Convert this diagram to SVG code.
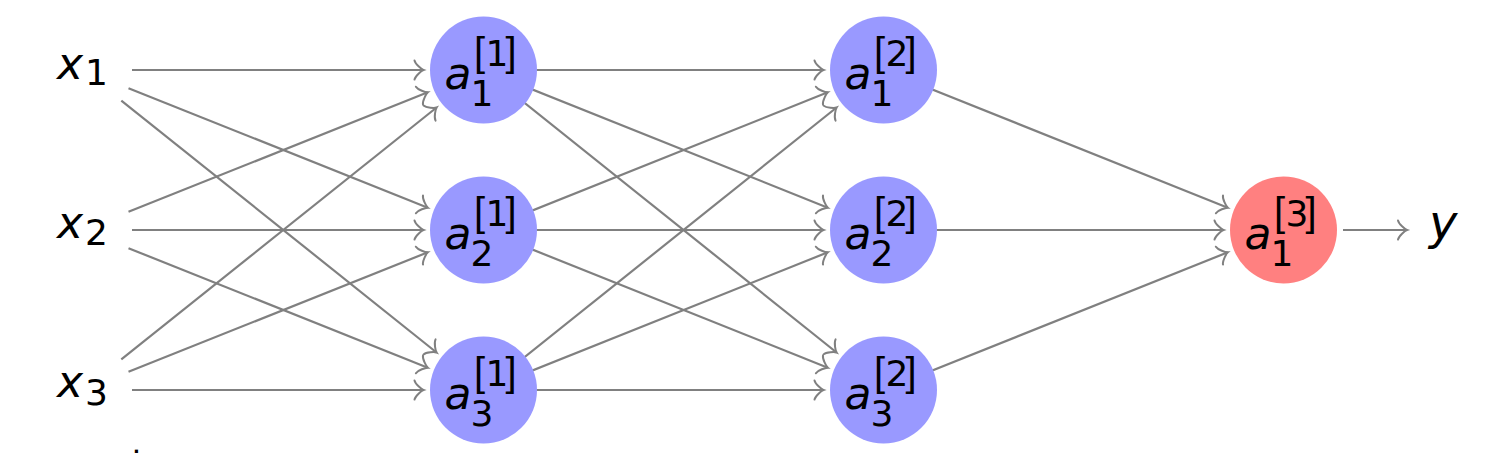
<svg xmlns="http://www.w3.org/2000/svg" width="1488" height="458" viewBox="0 0 1488 458">
<style>
.edge{stroke:#808080;stroke-width:2.2;fill:none;marker-end:url(#arr)}
.hid{fill:#9999ff}
.out{fill:#ff8080}
.let{font-family:"DejaVu Sans",sans-serif;font-style:italic;font-size:44px;fill:#000}
.dig{font-family:"DejaVu Sans",sans-serif;font-size:36px;fill:#000}
.br{font-family:"Liberation Sans",sans-serif;font-size:40px;fill:#000}
</style>
<defs>
<marker id="arr" markerUnits="userSpaceOnUse" markerWidth="20" markerHeight="24" refX="10" refY="12" orient="auto" overflow="visible">
<path d="M1,2.4 C1.6,6 8.2,11.4 10,12 C8.2,12.6 1.6,18 1,21.6" fill="none" stroke="#808080" stroke-width="2" stroke-linecap="round"/>
</marker>
</defs>
<g id="connectors">
<line class="edge" x1="132" y1="70" x2="423.5" y2="70"/>
<line class="edge" x1="128.5" y1="88.2" x2="427.8" y2="207.7"/>
<line class="edge" x1="121.3" y1="100.6" x2="436.6" y2="352.5"/>
<line class="edge" x1="128.5" y1="211.8" x2="427.8" y2="92.3"/>
<line class="edge" x1="132" y1="230" x2="423.5" y2="230"/>
<line class="edge" x1="128.5" y1="248.2" x2="427.8" y2="367.7"/>
<line class="edge" x1="121.3" y1="359.4" x2="436.6" y2="107.5"/>
<line class="edge" x1="128.5" y1="371.8" x2="427.8" y2="252.3"/>
<line class="edge" x1="132" y1="390" x2="423.5" y2="390"/>
<line class="edge" x1="483.5" y1="70" x2="823.5" y2="70"/>
<line class="edge" x1="483.5" y1="70" x2="827.8" y2="207.7"/>
<line class="edge" x1="483.5" y1="70" x2="836.6" y2="352.5"/>
<line class="edge" x1="483.5" y1="230" x2="827.8" y2="92.3"/>
<line class="edge" x1="483.5" y1="230" x2="823.5" y2="230"/>
<line class="edge" x1="483.5" y1="230" x2="827.8" y2="367.7"/>
<line class="edge" x1="483.5" y1="390" x2="836.6" y2="107.5"/>
<line class="edge" x1="483.5" y1="390" x2="827.8" y2="252.3"/>
<line class="edge" x1="483.5" y1="390" x2="823.5" y2="390"/>
<line class="edge" x1="883.5" y1="70" x2="1227.8" y2="207.7"/>
<line class="edge" x1="883.5" y1="230" x2="1223.5" y2="230"/>
<line class="edge" x1="883.5" y1="390" x2="1227.8" y2="252.3"/>
<line class="edge" x1="1343" y1="230" x2="1407" y2="230"/>
</g>
<g id="x1"><text class="let" x="57" y="79">x</text><text class="dig" x="85" y="85">1</text></g>
<g id="x2"><text class="let" x="57" y="238">x</text><text class="dig" x="85" y="245">2</text></g>
<g id="x3"><text class="let" x="57" y="397">x</text><text class="dig" x="85" y="405">3</text></g>
<g id="a1_1" transform="translate(483.5,70)"><circle class="hid" r="53.5"/><text class="let" x="-39" y="19">a</text><text class="dig" x="-13" y="36">1</text><text class="br" x="-9.5" y="-4">[</text><text class="dig" x="2" y="-4">1</text><text class="br" x="22" y="-4">]</text></g>
<g id="a2_1" transform="translate(483.5,230)"><circle class="hid" r="53.5"/><text class="let" x="-39" y="19">a</text><text class="dig" x="-13" y="36">2</text><text class="br" x="-9.5" y="-4">[</text><text class="dig" x="2" y="-4">1</text><text class="br" x="22" y="-4">]</text></g>
<g id="a3_1" transform="translate(483.5,390)"><circle class="hid" r="53.5"/><text class="let" x="-39" y="19">a</text><text class="dig" x="-13" y="36">3</text><text class="br" x="-9.5" y="-4">[</text><text class="dig" x="2" y="-4">1</text><text class="br" x="22" y="-4">]</text></g>
<g id="a1_2" transform="translate(883.5,70)"><circle class="hid" r="53.5"/><text class="let" x="-39" y="19">a</text><text class="dig" x="-13" y="36">1</text><text class="br" x="-9.5" y="-4">[</text><text class="dig" x="2" y="-4">2</text><text class="br" x="22" y="-4">]</text></g>
<g id="a2_2" transform="translate(883.5,230)"><circle class="hid" r="53.5"/><text class="let" x="-39" y="19">a</text><text class="dig" x="-13" y="36">2</text><text class="br" x="-9.5" y="-4">[</text><text class="dig" x="2" y="-4">2</text><text class="br" x="22" y="-4">]</text></g>
<g id="a3_2" transform="translate(883.5,390)"><circle class="hid" r="53.5"/><text class="let" x="-39" y="19">a</text><text class="dig" x="-13" y="36">3</text><text class="br" x="-9.5" y="-4">[</text><text class="dig" x="2" y="-4">2</text><text class="br" x="22" y="-4">]</text></g>
<g id="a1_3" transform="translate(1283.5,230)"><circle class="out" r="53.5"/><text class="let" x="-39" y="19">a</text><text class="dig" x="-13" y="36">1</text><text class="br" x="-9.5" y="-4">[</text><text class="dig" x="2" y="-4">3</text><text class="br" x="22" y="-4">]</text></g>
<g id="y"><text class="let" x="1429" y="239" style="font-size:48px">y</text></g>
<g id="dot"><text x="133" y="453" style="font-family:'DejaVu Sans',sans-serif;font-size:18px;font-weight:bold;fill:#000">.</text></g>
</svg>
